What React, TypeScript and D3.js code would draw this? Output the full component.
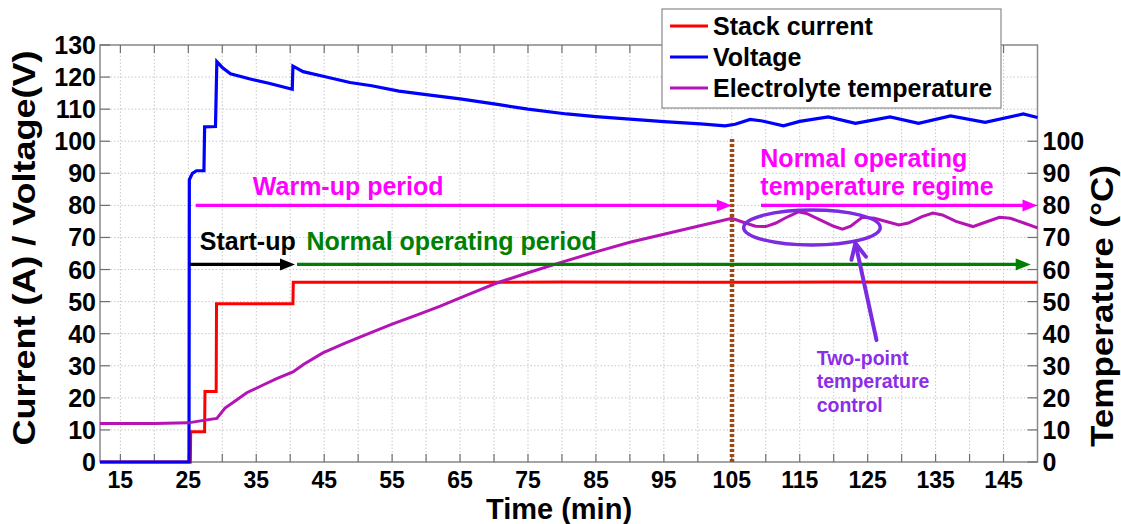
import React from "react";
import * as d3 from "d3";

// ---------- data (time in min, value) ----------
const currentData: [number, number][] = [
  [12, 0], [25.3, 0], [25.35, 9.4], [27.4, 9.4], [27.45, 22], [29.1, 22], [29.15, 49.3],
  [40.4, 49.3], [40.45, 56], [60, 56], [80, 56.1], [100, 56], [120, 56.1], [150, 56],
];
const voltageData: [number, number][] = [
  [12, 0], [25.1, 0], [25.15, 88], [25.6, 90], [26.2, 90.8], [27.3, 90.8], [27.4, 104.5],
  [29, 104.6], [29.2, 124.8], [30, 123], [31.2, 121], [34.1, 119.4], [37, 118], [40.3, 116.2],
  [40.4, 123.4], [41.9, 121.7], [45, 120.2], [48.8, 118.3], [52, 117.3], [56, 115.6],
  [60.6, 114.4], [65, 113.2], [70.5, 111.5], [75, 110], [80.7, 108.5], [85, 107.7],
  [90.5, 106.8], [95, 106.1], [100.4, 105.4], [104, 104.8], [105.5, 105.3], [107.7, 106.8],
  [109.5, 106.3], [112.6, 104.8], [115, 106.2], [119.2, 107.6], [123.2, 105.6], [128.3, 107.6],
  [132.5, 105.6], [137.2, 107.9], [142.3, 105.9], [147.9, 108.5], [150, 107.4],
];
const temperatureData: [number, number][] = [
  [12, 12], [20, 12], [25, 12.2], [27, 12.9], [29.2, 13.6], [30.4, 16.8], [32, 19.2],
  [33.6, 21.6], [36, 24], [38, 26], [40.4, 28.1], [42, 30.5], [44.8, 34], [48, 37],
  [51.7, 40.2], [55, 43], [58.6, 45.8], [62, 48.5], [66, 52], [70.4, 55.8], [75, 59],
  [80, 62.3], [85, 65.5], [90, 68.5], [95, 71], [100, 73.5], [103, 75], [105, 76],
  [107, 74.5], [108.5, 73.5], [110, 73.4], [111.5, 74.5], [112.8, 76], [114.8, 78],
  [116, 77.5], [118, 75.5], [120, 73.5], [121.3, 72.6], [122.5, 73.5], [124.2, 76.3],
  [126, 76], [128, 74.8], [129.6, 73.9], [131, 74.5], [133, 76.5], [134.6, 77.6], [136, 77],
  [138, 75], [140.5, 73.4], [142, 74.5], [144.4, 76.3], [146, 76], [148, 74.5], [150, 73],
];

const xTickLabels = [15, 25, 35, 45, 55, 65, 75, 85, 95, 105, 115, 125, 135, 145];
const xMinorTicks = d3.range(15, 150, 5);
const yLeftTicks = d3.range(0, 131, 10);
const yRightTicks = d3.range(0, 101, 10);

const legendItems = [
  { label: "Stack current", color: "#ff0000" },
  { label: "Voltage", color: "#0000ff" },
  { label: "Electrolyte temperature", color: "#b414b4" },
];

// annotations (data coordinates)
const arrows = [
  { x1: 26.1, x2: 105, y: 80, color: "#ff00ff" },
  { x1: 109.3, x2: 150, y: 80, color: "#ff00ff" },
  { x1: 25.2, x2: 40.7, y: 61.6, color: "#000000" },
  { x1: 41, x2: 149, y: 61.6, color: "#008000" },
];
const labels = [
  { text: "Warm-up period", x: 34.5, y: 83.2, color: "#ff00ff", size: 25 },
  { text: "Normal operating", x: 109.2, y: 92, color: "#ff00ff", size: 25 },
  { text: "temperature regime", x: 109.2, y: 83.2, color: "#ff00ff", size: 25 },
  { text: "Start-up", x: 26.7, y: 66.1, color: "#000000", size: 25 },
  { text: "Normal operating period", x: 42.4, y: 66.1, color: "#008000", size: 25 },
  { text: "Two-point", x: 117.5, y: 30.2, color: "#8c2ee6", size: 19.5 },
  { text: "temperature", x: 117.5, y: 23.0, color: "#8c2ee6", size: 19.5 },
  { text: "control", x: 117.5, y: 15.6, color: "#8c2ee6", size: 19.5 },
];
const ellipseAnn = { cx: 116.8, cy: 73.1, rx: 10.05, ry: 5.45 };
const pointerAnn = { x1: 126.3, y1: 38, x2: 123.2, y2: 68.2 };
const markerLine = { x: 105, y1: 0, y2: 101 };

const FONT = "'Liberation Sans', Arial, Helvetica, sans-serif";

export default function App() {
  const W = 1121, H = 524;
  const x = d3.scaleLinear().domain([12, 150]).range([100, 1037.5]);
  const y = d3.scaleLinear().domain([0, 130]).range([462, 45]);
  const line = d3.line<[number, number]>().x((d) => x(d[0])).y((d) => y(d[1]));

  const left = x.range()[0], right = x.range()[1];
  const top = y.range()[1], bottom = y.range()[0];

  const arrowHead = (tipX: number, tipY: number, color: string) => {
    const L = 15, Hh = 6;
    return (
      <polygon
        points={`${tipX},${tipY} ${tipX - L},${tipY - Hh} ${tipX - L},${tipY + Hh}`}
        fill={color}
      />
    );
  };

  // pointer arrow head geometry
  const px1 = x(pointerAnn.x1), py1 = y(pointerAnn.y1);
  const px2 = x(pointerAnn.x2), py2 = y(pointerAnn.y2);
  const ang = Math.atan2(py2 - py1, px2 - px1);
  const wing = 17, spread = 0.45;
  const w1 = [px2 - wing * Math.cos(ang - spread), py2 - wing * Math.sin(ang - spread)];
  const w2 = [px2 - wing * Math.cos(ang + spread), py2 - wing * Math.sin(ang + spread)];

  const mx = Math.round(x(markerLine.x));

  return (
    <svg
      width={W}
      height={H}
      style={{ position: "absolute", left: 0, top: 0, background: "#fff" }}
      fontFamily={FONT}
      fontWeight="bold"
    >
      {/* grid */}
      <g stroke="#c8c8c8" strokeWidth={1} strokeDasharray="1.5,2">
        {xMinorTicks.map((t) => (
          <line key={"gx" + t} x1={x(t)} x2={x(t)} y1={top} y2={bottom} />
        ))}
        {yLeftTicks.map((t) => (
          <line key={"gy" + t} x1={left} x2={right} y1={y(t)} y2={y(t)} />
        ))}
      </g>

      {/* axes box */}
      <rect x={left} y={top} width={right - left} height={bottom - top} fill="none" stroke="#8a8a8a" strokeWidth={1.5} />
      <g stroke="#6e6e6e" strokeWidth={1.2}>
        {xMinorTicks.map((t) => (
          <g key={"tx" + t}>
            <line x1={x(t)} x2={x(t)} y1={bottom} y2={bottom - 8} />
            <line x1={x(t)} x2={x(t)} y1={top} y2={top + 8} />
          </g>
        ))}
        {yLeftTicks.map((t) => (
          <line key={"tl" + t} x1={left} x2={left + 10} y1={y(t)} y2={y(t)} />
        ))}
        {yRightTicks.map((t) => (
          <line key={"tr" + t} x1={right} x2={right - 10} y1={y(t)} y2={y(t)} />
        ))}
      </g>

      {/* tick labels */}
      {yLeftTicks.map((t) => (
        <text key={"ll" + t} x={left - 4} y={y(t)} dy="0.36em" textAnchor="end" fontSize={25}>
          {t}
        </text>
      ))}
      {yRightTicks.map((t) => (
        <text key={"rl" + t} x={right + 5} y={y(t)} dy="0.36em" textAnchor="start" fontSize={25}>
          {t}
        </text>
      ))}
      {xTickLabels.map((t) => (
        <text key={"xl" + t} x={x(t)} y={488} textAnchor="middle" fontSize={23}>
          {t}
        </text>
      ))}

      {/* axis titles */}
      <text x={559} y={519} textAnchor="middle" fontSize={29}>Time (min)</text>
      <text
        transform="translate(35,248) rotate(-90)"
        textAnchor="middle"
        fontSize={31}
        textLength={395}
        lengthAdjust="spacingAndGlyphs"
      >
        Current (A) / Voltage(V)
      </text>
      <text
        transform="translate(1113,306) rotate(-90)"
        textAnchor="middle"
        fontSize={31}
        textLength={282}
        lengthAdjust="spacingAndGlyphs"
      >
        Temperature (°C)
      </text>

      {/* series */}
      <path d={line(currentData) || ""} fill="none" stroke="#ff0000" strokeWidth={3} />
      <path d={line(voltageData) || ""} fill="none" stroke="#0000ff" strokeWidth={3.2} />
      <path d={line(temperatureData) || ""} fill="none" stroke="#b414b4" strokeWidth={3} />

      {/* vertical marker */}
      <line
        x1={mx} x2={mx} y1={y(markerLine.y1)} y2={y(markerLine.y2)}
        stroke="#9c4a16" strokeWidth={4.5} strokeDasharray="3,2"
      />

      {/* arrows */}
      {arrows.map((a, i) => (
        <g key={"ar" + i}>
          <line x1={x(a.x1)} x2={x(a.x2) - 12} y1={y(a.y)} y2={y(a.y)} stroke={a.color} strokeWidth={3.2} />
          {arrowHead(x(a.x2), y(a.y), a.color)}
        </g>
      ))}

      {/* labels */}
      {labels.map((l, i) => (
        <text key={"lb" + i} x={x(l.x)} y={y(l.y)} fill={l.color} fontSize={l.size}>
          {l.text}
        </text>
      ))}

      {/* ellipse + pointer */}
      <ellipse
        cx={x(ellipseAnn.cx)} cy={y(ellipseAnn.cy)}
        rx={x(ellipseAnn.cx + ellipseAnn.rx) - x(ellipseAnn.cx)}
        ry={y(ellipseAnn.cy - ellipseAnn.ry) - y(ellipseAnn.cy)}
        fill="none" stroke="#7b2be0" strokeWidth={3.5}
      />
      <line x1={px1} y1={py1} x2={px2} y2={py2} stroke="#7b2be0" strokeWidth={4} strokeLinecap="round" />
      <polyline
        points={`${w1[0]},${w1[1]} ${px2},${py2} ${w2[0]},${w2[1]}`}
        fill="none" stroke="#7b2be0" strokeWidth={4} strokeLinecap="round" strokeLinejoin="round"
      />

      {/* legend */}
      <g>
        <rect x={662} y={9} width={339} height={99} fill="#fff" stroke="#8a8a8a" strokeWidth={1.2} />
        {legendItems.map((it, i) => {
          const ry = 26 + i * 31;
          return (
            <g key={"lg" + i}>
              <line x1={670} x2={708} y1={ry} y2={ry} stroke={it.color} strokeWidth={3} />
              <text x={713} y={ry} dy="0.36em" fontSize={25} fill="#000">
                {it.label}
              </text>
            </g>
          );
        })}
      </g>
    </svg>
  );
}
